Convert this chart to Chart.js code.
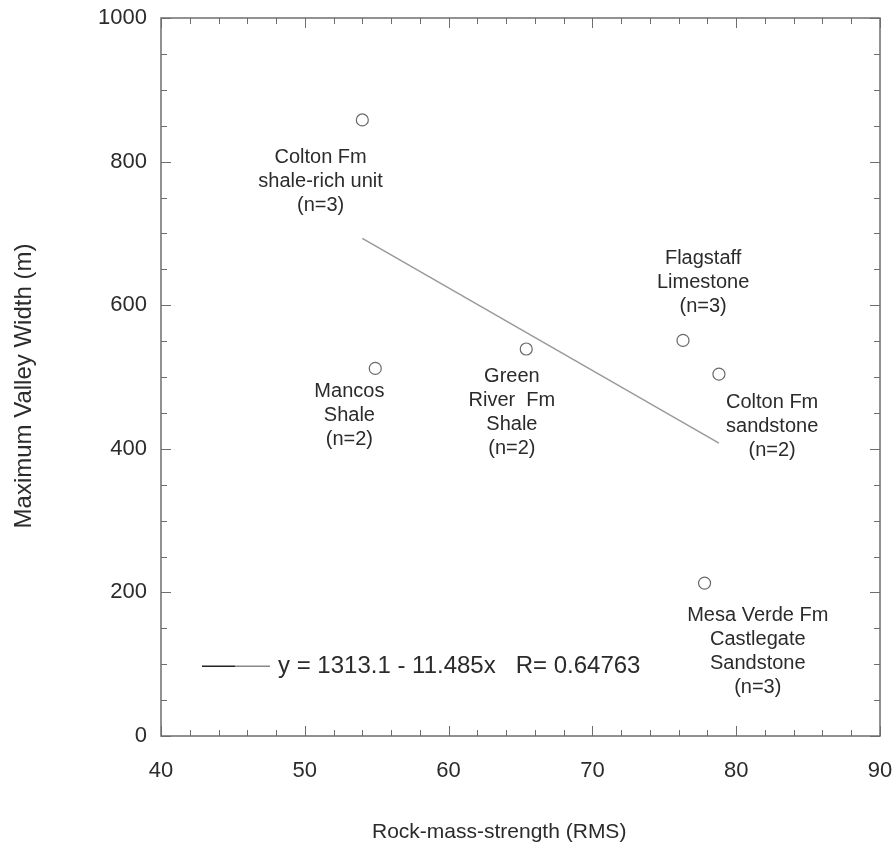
<!DOCTYPE html>
<html>
<head>
<meta charset="utf-8">
<script src="https://cdn.jsdelivr.net/npm/chart.js@4.4.1/dist/chart.umd.min.js"></script>
<style>
  html, body { margin: 0; padding: 0; background: #fff; }
  #wrap { width: 895px; height: 847px; }
</style>
</head>
<body>
<div id="wrap"><canvas id="chart" width="895" height="847"></canvas></div>
<script>
// Rock-mass strength vs maximum valley width, one point per geologic unit
const rms = [54.0, 54.9, 65.4, 76.3, 78.8, 77.8];
const valleyWidth = [858, 512, 539, 551, 504, 213];
const unitNames = [
  ['Colton Fm', 'shale-rich unit', '(n=3)'],
  ['Mancos', 'Shale', '(n=2)'],
  ['Green', 'River  Fm', 'Shale', '(n=2)'],
  ['Flagstaff', 'Limestone', '(n=3)'],
  ['Colton Fm', 'sandstone', '(n=2)'],
  ['Mesa Verde Fm', 'Castlegate', 'Sandstone', '(n=3)']
];
// where each label block sits (data coords of first line centre)
const labelAtX = [51.1, 53.1, 64.4, 77.7, 82.5, 81.5];
const labelAtY = [806, 480, 501, 665, 465, 168];

// least squares fit, ends
const fitX = [54.0, 78.8];
const fitY = [693, 408];
const fitText = 'y = 1313.1 - 11.485x   R= 0.64763';

const xTicks = [40, 50, 60, 70, 80, 90];
const yTicks = [0, 200, 400, 600, 800, 1000];
const xTitle = 'Rock-mass-strength (RMS)';
const yTitle = 'Maximum Valley Width (m)';

const FONT = 'Liberation Sans, Arial, Helvetica, sans-serif';
const INK = '#2b2b2b';
const FRAME = '#6e6e6e';

const frameAndNotes = {
  id: 'frameAndNotes',
  afterDraw(chart) {
    const { ctx, chartArea: a, scales: { x, y } } = chart;
    ctx.save();
    // box
    ctx.strokeStyle = FRAME;
    ctx.lineWidth = 1.5;
    ctx.strokeRect(a.left, a.top, a.right - a.left, a.bottom - a.top);
    // inward ticks on all four sides
    ctx.lineWidth = 1;
    for (let v = 40; v <= 90; v += 2) {
      const px = Math.round(x.getPixelForValue(v)) + 0.5;
      const len = v % 10 === 0 ? 10 : 6;
      ctx.beginPath();
      ctx.moveTo(px, a.bottom); ctx.lineTo(px, a.bottom - len);
      ctx.moveTo(px, a.top); ctx.lineTo(px, a.top + len);
      ctx.stroke();
    }
    for (let v = 0; v <= 1000; v += 50) {
      const py = Math.round(y.getPixelForValue(v)) + 0.5;
      const len = v % 200 === 0 ? 10 : 6;
      ctx.beginPath();
      ctx.moveTo(a.left, py); ctx.lineTo(a.left + len, py);
      ctx.moveTo(a.right, py); ctx.lineTo(a.right - len, py);
      ctx.stroke();
    }
    // unit labels
    ctx.fillStyle = INK;
    ctx.font = '20px ' + FONT;
    ctx.textAlign = 'center';
    ctx.textBaseline = 'middle';
    unitNames.forEach((lines, i) => {
      const cx = x.getPixelForValue(labelAtX[i]);
      const cy = y.getPixelForValue(labelAtY[i]);
      lines.forEach((t, k) => ctx.fillText(t, cx, cy + k * 24));
    });
    // fit legend
    const ly = y.getPixelForValue(97);
    const lx = x.getPixelForValue(42.85);
    ctx.strokeStyle = '#222';
    ctx.lineWidth = 1.5;
    ctx.beginPath(); ctx.moveTo(lx, ly); ctx.lineTo(lx + 33, ly); ctx.stroke();
    ctx.strokeStyle = '#888';
    ctx.beginPath(); ctx.moveTo(lx + 33, ly); ctx.lineTo(lx + 68, ly); ctx.stroke();
    ctx.font = '24px ' + FONT;
    ctx.textAlign = 'left';
    ctx.fillText(fitText, lx + 76, ly);
    // axis titles (sit a bit off-centre in the original)
    ctx.font = '21px ' + FONT;
    ctx.textAlign = 'left';
    ctx.textBaseline = 'alphabetic';
    ctx.fillText(xTitle, a.left + 211, a.bottom + 102);
    ctx.translate(a.left - 137, a.top + 368);
    ctx.rotate(-Math.PI / 2);
    ctx.font = '24px ' + FONT;
    ctx.textAlign = 'center';
    ctx.textBaseline = 'middle';
    ctx.fillText(yTitle, 0, 0);
    ctx.restore();
  }
};

new Chart(document.getElementById('chart'), {
  type: 'scatter',
  data: {
    datasets: [
      {
        label: 'units',
        data: rms.map((v, i) => ({ x: v, y: valleyWidth[i] })),
        pointStyle: 'circle',
        pointRadius: 6,
        pointBorderWidth: 1.2,
        pointBorderColor: '#6a6a6a',
        pointBackgroundColor: 'rgba(255,255,255,0)'
      },
      {
        label: 'fit',
        type: 'line',
        data: fitX.map((v, i) => ({ x: v, y: fitY[i] })),
        borderColor: '#9a9a9a',
        borderWidth: 1.5,
        pointRadius: 0,
        fill: false
      }
    ]
  },
  options: {
    responsive: false,
    animation: false,
    layout: { padding: { left: 0, top: 18, right: 15, bottom: 0 } },
    plugins: { legend: { display: false }, tooltip: { enabled: false } },
    scales: {
      x: {
        type: 'linear',
        min: 40, max: 90,
        afterBuildTicks: s => { s.ticks = xTicks.map(v => ({ value: v })); },
        afterFit: s => { s.height = 111; s.paddingLeft = 0; s.paddingRight = 0; },
        grid: { display: false, drawTicks: false },
        border: { display: false },
        ticks: { color: INK, font: { family: FONT, size: 22 }, padding: 22, maxRotation: 0,
                 callback: v => String(v) },
        title: { display: false }
      },
      y: {
        type: 'linear',
        min: 0, max: 1000,
        afterBuildTicks: s => { s.ticks = yTicks.map(v => ({ value: v })); },
        afterFit: s => { s.width = 161; s.paddingTop = 0; s.paddingBottom = 0; },
        grid: { display: false, drawTicks: false },
        border: { display: false },
        ticks: { color: INK, font: { family: FONT, size: 22 }, padding: 14,
                 callback: v => String(v) },
        title: { display: false }
      }
    }
  },
  plugins: [frameAndNotes]
});
</script>
</body>
</html>
